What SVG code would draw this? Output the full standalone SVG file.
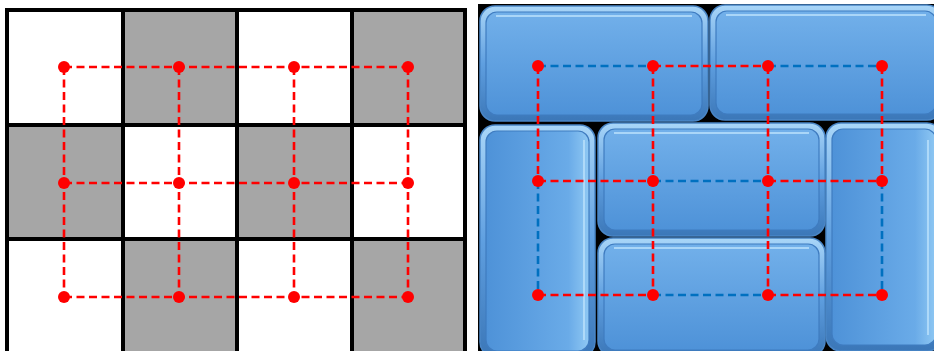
<svg xmlns="http://www.w3.org/2000/svg" width="934" height="351" viewBox="0 0 934 351">
<defs>
<linearGradient id="rim" x1="0" y1="0" x2="0" y2="1">
<stop offset="0" stop-color="#a9d6f8"/>
<stop offset="0.5" stop-color="#5f9fe0"/>
<stop offset="1" stop-color="#3b77b8"/>
</linearGradient>
<linearGradient id="face" x1="0" y1="0" x2="0" y2="1">
<stop offset="0" stop-color="#72b0ea"/>
<stop offset="1" stop-color="#4e92d8"/>
</linearGradient>
<linearGradient id="faceV" x1="0" y1="0" x2="1" y2="0">
<stop offset="0" stop-color="#4e92d8"/>
<stop offset="0.8" stop-color="#6aabe8"/>
<stop offset="1" stop-color="#8fc8f3"/>
</linearGradient>
</defs>
<style>
.white{fill:#ffffff}
.gray{fill:#a6a6a6}
.gl{stroke:#000;stroke-width:4;fill:none}
.rim{fill:url(#rim);stroke:#4a86c6;stroke-width:1.5}
.face{fill:url(#face);stroke:#3f7cc0;stroke-width:1.2}
.faceV{fill:url(#faceV);stroke:#3f7cc0;stroke-width:1.2}
.hl{fill:none;stroke:#b9e0fb;stroke-width:2;opacity:0.8}
.r{stroke:#ff0000;stroke-width:2.6;stroke-dasharray:8 4.5;fill:none}
.b{stroke:#0070c0;stroke-width:2.6;stroke-dasharray:8 4.5;fill:none}
.dot{fill:#ff0000}
</style>
<rect width="934" height="351" fill="#ffffff"/>
<g id="grid">
<rect class="white" x="7" y="10" width="116" height="115"/>
<rect class="gray" x="123" y="10" width="114" height="115"/>
<rect class="white" x="237" y="10" width="115" height="115"/>
<rect class="gray" x="352" y="10" width="113" height="115"/>
<rect class="gray" x="7" y="125" width="116" height="114"/>
<rect class="white" x="123" y="125" width="114" height="114"/>
<rect class="gray" x="237" y="125" width="115" height="114"/>
<rect class="white" x="352" y="125" width="113" height="114"/>
<rect class="white" x="7" y="239" width="116" height="115"/>
<rect class="gray" x="123" y="239" width="114" height="115"/>
<rect class="white" x="237" y="239" width="115" height="115"/>
<rect class="gray" x="352" y="239" width="113" height="115"/>
<path class="gl" d="M7 10H465V356H7Z M123 10V356 M237 10V356 M352 10V356 M7 125H465 M7 239H465"/>
</g>
<rect x="478" y="4" width="456" height="347" fill="#000"/>
<g id="block-top-left">
<rect class="rim" x="480" y="6" width="228" height="115" rx="15"/>
<rect class="face" x="486" y="12" width="216" height="103" rx="11"/>
<path class="hl" d="M496 16H692"/>
</g>
<g id="block-top-right">
<rect class="rim" x="710" y="5" width="232" height="115" rx="15"/>
<rect class="face" x="716" y="11" width="220" height="103" rx="11"/>
<path class="hl" d="M726 15H926"/>
</g>
<g id="block-left">
<rect class="rim" x="480" y="125" width="115" height="232" rx="15"/>
<rect class="faceV" x="486" y="131" width="103" height="220" rx="11"/>
<path class="hl" d="M584 140V340"/>
</g>
<g id="block-middle">
<rect class="rim" x="598" y="123" width="227" height="113" rx="15"/>
<rect class="face" x="604" y="129" width="215" height="101" rx="11"/>
<path class="hl" d="M614 133H809"/>
</g>
<g id="block-bottom">
<rect class="rim" x="598" y="238" width="227" height="118" rx="15"/>
<rect class="face" x="604" y="244" width="215" height="106" rx="11"/>
<path class="hl" d="M614 248H809"/>
</g>
<g id="block-right">
<rect class="rim" x="826" y="123" width="116" height="228" rx="15"/>
<rect class="faceV" x="832" y="129" width="104" height="216" rx="11"/>
<path class="hl" d="M928 140V335"/>
</g>
<g id="connectors">
<path class="r" d="M64 67H408 M64 183H408 M64 297H408 M64 67V297 M179 67V297 M294 67V297 M408 67V297"/>
<path class="b" d="M538 66H653 M768 66H882 M653 181H768 M653 295H768 M538 181V295 M882 181V295"/>
<path class="r" d="M653 66H768 M538 181H653 M768 181H882 M538 295H653 M768 295H882 M538 66V181 M653 66V295 M768 66V295 M882 66V181"/>
</g>
<g id="dots">
<circle class="dot" cx="64" cy="67" r="6"/><circle class="dot" cx="179" cy="67" r="6"/><circle class="dot" cx="294" cy="67" r="6"/><circle class="dot" cx="408" cy="67" r="6"/>
<circle class="dot" cx="64" cy="183" r="6"/><circle class="dot" cx="179" cy="183" r="6"/><circle class="dot" cx="294" cy="183" r="6"/><circle class="dot" cx="408" cy="183" r="6"/>
<circle class="dot" cx="64" cy="297" r="6"/><circle class="dot" cx="179" cy="297" r="6"/><circle class="dot" cx="294" cy="297" r="6"/><circle class="dot" cx="408" cy="297" r="6"/>
<circle class="dot" cx="538" cy="66" r="6"/><circle class="dot" cx="653" cy="66" r="6"/><circle class="dot" cx="768" cy="66" r="6"/><circle class="dot" cx="882" cy="66" r="6"/>
<circle class="dot" cx="538" cy="181" r="6"/><circle class="dot" cx="653" cy="181" r="6"/><circle class="dot" cx="768" cy="181" r="6"/><circle class="dot" cx="882" cy="181" r="6"/>
<circle class="dot" cx="538" cy="295" r="6"/><circle class="dot" cx="653" cy="295" r="6"/><circle class="dot" cx="768" cy="295" r="6"/><circle class="dot" cx="882" cy="295" r="6"/>
</g>
</svg>
